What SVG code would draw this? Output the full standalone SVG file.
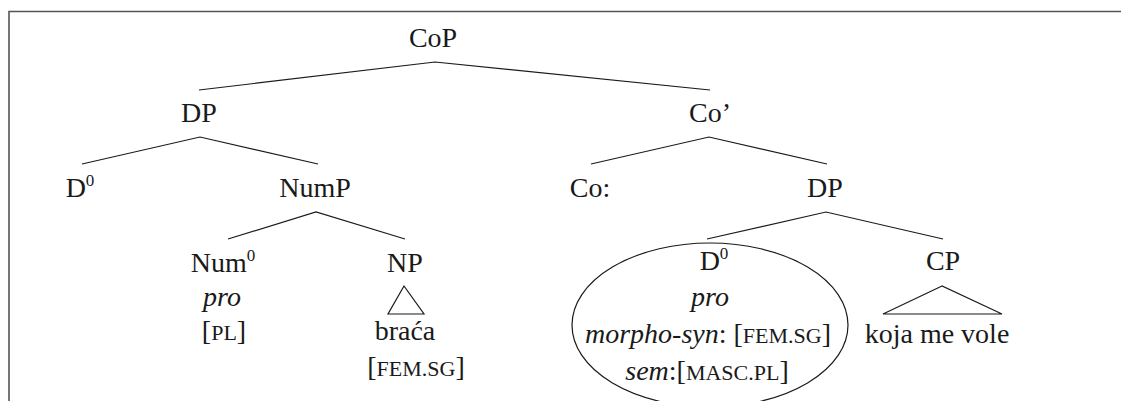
<svg xmlns="http://www.w3.org/2000/svg" width="1121" height="401" viewBox="0 0 1121 401">
<style>
text{font-family:"Liberation Serif","Times New Roman",serif;font-size:28px;fill:#1a1a1a;text-anchor:middle}
.i{font-style:italic}
.sc{font-size:22px}
.sup{font-size:17px}
.e{fill:none;stroke:#1a1a1a;stroke-width:1.2}
</style>
<rect width="1121" height="401" fill="#fff"/>
<g id="frame" fill="none" stroke="#555" stroke-width="1.6"><path d="M9,401 V11.5 H1121"/></g>
<g id="connectors" class="e">
<path d="M199,90 L435,62 L710,90"/>
<path d="M82,164 L200,137 L318,164"/>
<path d="M591,164 L709,137 L827,164"/>
<path d="M228,239 L316,212 L405,239"/>
<path d="M707,239 L826,212 L943,239"/>
<path d="M404,286 L388,314 L424,314 Z"/>
<path d="M942,286 L883,314 L1002,314 Z"/>
</g>
<g id="n-CoP"><text x="433" y="47">CoP</text></g>
<g id="n-DP1"><text x="199" y="122">DP</text></g>
<g id="n-Co1"><text x="710" y="122">Co’</text></g>
<g id="n-D0a"><text x="80" y="197">D<tspan class="sup" dy="-11">0</tspan></text></g>
<g id="n-NumP"><text x="315" y="197">NumP</text></g>
<g id="n-Co"><text x="590" y="197">Co:</text></g>
<g id="n-DP2"><text x="825" y="197">DP</text></g>
<g id="n-Num0"><text x="223" y="272">Num<tspan class="sup" dy="-11">0</tspan></text>
<text class="i" x="222" y="306">pro</text>
<text x="224" y="340">[<tspan class="sc">PL</tspan>]</text></g>
<g id="n-NP"><text x="405" y="272">NP</text>
<text x="405" y="340">braća</text>
<text x="416" y="376">[<tspan class="sc">FEM.SG</tspan>]</text></g>
<g id="n-D0b"><ellipse class="e" cx="710" cy="325" rx="138" ry="82"/>
<text x="714" y="270">D<tspan class="sup" dy="-11">0</tspan></text>
<text class="i" x="710" y="306">pro</text>
<text x="708" y="343"><tspan class="i">morpho-syn</tspan>: [<tspan class="sc">FEM.SG</tspan>]</text>
<text x="707" y="380"><tspan class="i">sem</tspan>:[<tspan class="sc">MASC.PL</tspan>]</text></g>
<g id="n-CP"><text x="943" y="270">CP</text>
<text x="937" y="343">koja me vole</text></g>
</svg>
